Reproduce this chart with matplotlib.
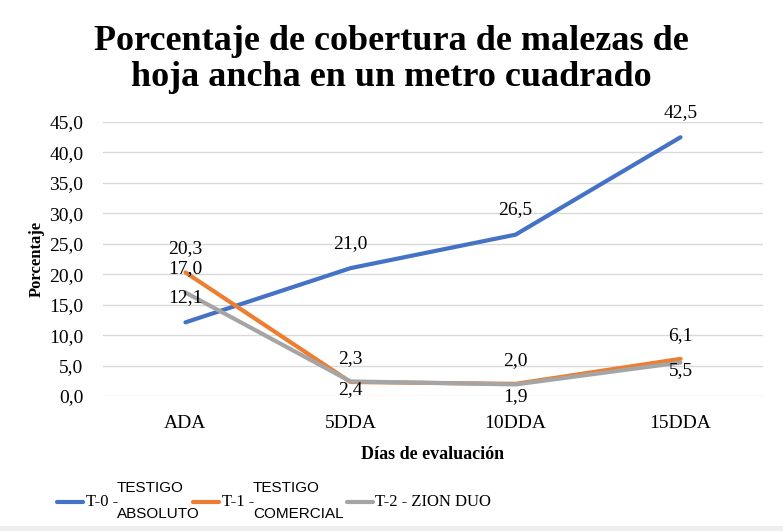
import matplotlib
matplotlib.use('Agg')
import matplotlib.pyplot as plt
from matplotlib.lines import Line2D
from matplotlib.patches import Rectangle

# data
categorias = ['ADA', '5DDA', '10DDA', '15DDA']
t0 = [12.1, 21.0, 26.5, 42.5]
t1 = [20.3, 2.3, 2.0, 6.1]
t2 = [17.0, 2.4, 1.9, 5.5]
yticks = [0, 5, 10, 15, 20, 25, 30, 35, 40, 45]

azul = '#4472C4'
naranja = '#ED7D31'
gris = '#A5A5A5'
serif = ['Liberation Serif', 'DejaVu Serif']
sans = ['Liberation Sans Narrow', 'Liberation Sans', 'DejaVu Sans']

# label offsets (points), positive = above the point
off_t0 = [18, 18, 18, 18]
off_t1 = [17, 17, 17, 17]
off_t2 = [17, -6, -9, -6]

fig = plt.figure(figsize=(7.83, 5.31), dpi=100)
ax = fig.add_axes([0.1315, 0.2542, 0.843, 0.5160])

x = list(range(len(categorias)))
ax.plot(x, t0, color=azul, lw=3, solid_capstyle='round', zorder=3)
ax.plot(x, t1, color=naranja, lw=3, solid_capstyle='round', zorder=4)
ax.plot(x, t2, color=gris, lw=3, solid_capstyle='round', zorder=5)

for serie, offs in [(t0, off_t0), (t1, off_t1), (t2, off_t2)]:
    for xi, v, o in zip(x, serie, offs):
        ax.annotate(f'{v:.1f}'.replace('.', ','), (xi, v), xytext=(0, o),
                    textcoords='offset points', ha='center', va='center',
                    fontsize=14, family=serif, zorder=6)

ax.set_xlim(-0.5, 3.5)
ax.set_ylim(0, 45)
ax.set_yticks(yticks)
ax.set_yticklabels([f'{t:.1f}'.replace('.', ',') for t in yticks],
                   fontsize=14, family=serif)
ax.set_xticks(x)
ax.set_xticklabels(categorias, fontsize=14, family=serif)
ax.tick_params(axis='x', length=0, pad=14)
ax.tick_params(axis='y', length=0, pad=14)
ax.grid(axis='y', color='#D9D9D9', lw=1)
ax.set_axisbelow(True)
for s in ax.spines.values():
    s.set_visible(False)

ax.set_ylabel('Porcentaje', fontsize=12, fontweight='bold', family=serif, labelpad=3)
ax.set_xlabel('Días de evaluación', fontsize=13, fontweight='bold', family=serif, labelpad=10)

fig.text(0.5, 1 - 60 / 531, 'Porcentaje de cobertura de malezas de\nhoja ancha en un metro cuadrado',
         ha='center', va='center', fontsize=26, fontweight='bold', family=serif,
         linespacing=1.12)

# legend drawn by hand (mixed fonts in the original)
W, H = 783.0, 531.0
def leg_line(x0, color):
    fig.add_artist(Line2D([x0 / W, (x0 + 26) / W], [1 - 502 / H, 1 - 502 / H],
                          color=color, lw=3, solid_capstyle='round'))

leg_line(57, azul)
fig.text(86 / W, 1 - 502 / H, 'T-0 -', fontsize=12, family=serif, va='center')
fig.text(117 / W, 1 - 488 / H, 'TESTIGO', fontsize=11, family=sans, va='center')
fig.text(117 / W, 1 - 514 / H, 'ABSOLUTO', fontsize=11, family=sans, va='center')

leg_line(193, naranja)
fig.text(222 / W, 1 - 502 / H, 'T-1 -', fontsize=12, family=serif, va='center')
fig.text(253 / W, 1 - 488 / H, 'TESTIGO', fontsize=11, family=sans, va='center')
fig.text(253 / W, 1 - 514 / H, 'COMERCIAL', fontsize=11, family=sans, va='center')

leg_line(347, gris)
fig.text(375 / W, 1 - 502 / H, 'T-2 - ZION DUO', fontsize=12, family=serif, va='center')

fig.add_artist(Rectangle((0, 0), 1, 5 / H, transform=fig.transFigure,
                         color='#EEEEEE', lw=0))

fig.savefig('out.png', dpi=100)
